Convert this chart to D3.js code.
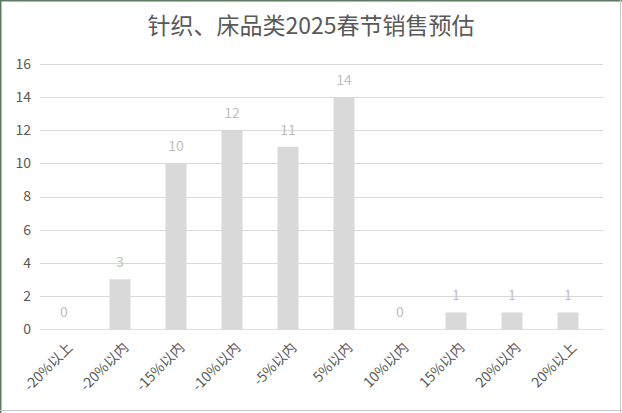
<!DOCTYPE html>
<html>
<head>
<meta charset="utf-8">
<script src="https://cdn.jsdelivr.net/npm/d3@7"></script>
<style>
  html, body { margin: 0; padding: 0; background: #ffffff; }
  svg { display: block; }
</style>
</head>
<body>
<svg id="chart" width="622" height="413"></svg>
<script>
// Forecast distribution of knit & bedding sales, 2025 Spring Festival
const chartTitle = "针织、床品类2025春节销售预估";
const categories = ["-20%以上", "-20%以内", "-15%以内", "-10%以内", "-5%以内", "5%以内", "10%以内", "15%以内", "20%以内", "20%以上"];
const values = [0, 3, 10, 12, 11, 14, 0, 1, 1, 1];
const yTicks = [0, 2, 4, 6, 8, 10, 12, 14, 16];

const W = 622, H = 413;
const plot = { left: 36, right: 596, top: 64, bottom: 329, gridLeft: 40, gridRight: 603 };
const font = "'Noto Sans CJK SC', 'Noto Sans', sans-serif";

const svg = d3.select("#chart");

// frame
svg.append("rect").attr("x", 0).attr("y", 0).attr("width", W).attr("height", H).attr("fill", "#ffffff");
svg.append("line").attr("x1", 0).attr("x2", W).attr("y1", 0.75).attr("y2", 0.75).attr("stroke", "#5f7a60").attr("stroke-width", 1.5);
svg.append("line").attr("x1", 0.75).attr("x2", 0.75).attr("y1", 0).attr("y2", H).attr("stroke", "#5f7a60").attr("stroke-width", 1.5);
svg.append("line").attr("x1", 620.5).attr("x2", 620.5).attr("y1", 0).attr("y2", H).attr("stroke", "#c8c8c8").attr("stroke-width", 1);
svg.append("line").attr("x1", 0).attr("x2", W).attr("y1", 410.5).attr("y2", 410.5).attr("stroke", "#c8c8c8").attr("stroke-width", 1);

const x = d3.scaleBand().domain(categories).range([plot.left, plot.right]).paddingInner(0.625).paddingOuter(0.3125);
const y = d3.scaleLinear().domain([0, 16]).range([plot.bottom, plot.top]);

// gridlines
svg.append("g").selectAll("line").data(yTicks).join("line")
  .attr("x1", plot.gridLeft).attr("x2", plot.gridRight)
  .attr("y1", d => Math.round(y(d)) + 0.5).attr("y2", d => Math.round(y(d)) + 0.5)
  .attr("stroke", "#d9d9d9").attr("stroke-width", 1);

// y axis labels
const yAxis = d3.axisLeft(y).tickValues(yTicks).tickSize(0).tickPadding(0).tickFormat(d3.format("d"));
const gy = svg.append("g").attr("transform", `translate(${plot.gridLeft - 9},0)`).call(yAxis);
gy.select(".domain").remove();
gy.selectAll("text").attr("fill", "#595959").style("font-family", font).style("font-size", "14px");

// bars
svg.append("g").selectAll("rect").data(values).join("rect")
  .attr("x", (d, i) => x(categories[i]))
  .attr("width", x.bandwidth())
  .attr("y", d => y(d))
  .attr("height", d => y(0) - y(d))
  .attr("fill", "#d9d9d9");

// value labels
svg.append("g").selectAll("text").data(values).join("text")
  .attr("x", (d, i) => x(categories[i]) + x.bandwidth() / 2)
  .attr("y", d => y(d) - 12)
  .attr("text-anchor", "middle")
  .attr("fill", "#bfbfbf")
  .style("font-family", font).style("font-size", "14px")
  .text(d => d);

// category labels, rotated
svg.append("g").selectAll("text").data(categories).join("text")
  .attr("transform", c => `translate(${x(c) + x.bandwidth() / 2 + 6},${plot.bottom + 16}) rotate(-45)`)
  .attr("text-anchor", "end")
  .attr("dy", "0.35em")
  .attr("fill", "#595959")
  .style("font-family", font).style("font-size", "14px")
  .text(c => c);

// title
svg.append("text")
  .attr("x", 311).attr("y", 34)
  .attr("text-anchor", "middle")
  .attr("fill", "#595959")
  .style("font-family", font).style("font-size", "23px")
  .text(chartTitle);
</script>
</body>
</html>
